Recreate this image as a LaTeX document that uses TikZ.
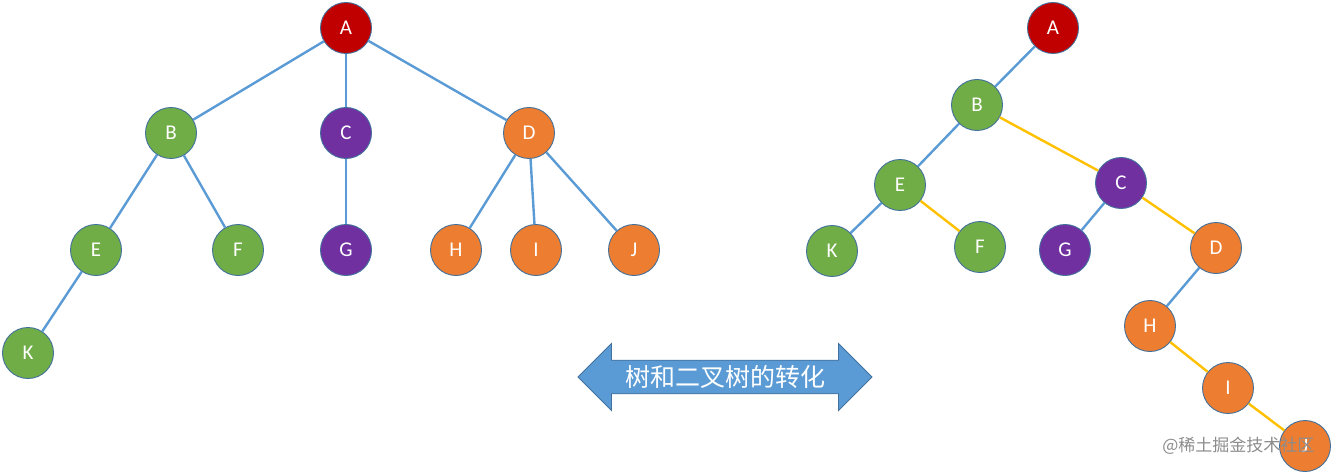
\documentclass[tikz,border=0pt]{standalone}
\usepackage{fontspec}
\setmainfont{Carlito}
\newfontfamily\cjk{Noto Sans CJK SC}
\usetikzlibrary{shapes.arrows}
\definecolor{cred}{HTML}{C00000}
\definecolor{cgreen}{HTML}{70AD47}
\definecolor{cpurple}{HTML}{7030A0}
\definecolor{corange}{HTML}{ED7D31}
\definecolor{cblue}{HTML}{5B9BD5}
\definecolor{cyellow}{HTML}{FFC000}
\definecolor{cborder}{HTML}{41719C}
\tikzset{
  tn/.style={circle, draw=cborder, line width=0.9pt, minimum size=51pt, inner sep=0pt, text=white, font=\fontsize{21}{21}\selectfont},
  rn/.style={tn, fill=cred},
  gn/.style={tn, fill=cgreen},
  pn/.style={tn, fill=cpurple},
  on/.style={tn, fill=corange},
  be/.style={draw=cblue, line width=2.4pt},
  ye/.style={draw=cyellow, line width=2.4pt},
}
\begin{document}
\begin{tikzpicture}[x=1pt,y=-1pt]
\useasboundingbox (0,0) rectangle (1332,473);
% edges left tree drawn first (behind nodes)
\begin{scope}[every node/.append style={}]
\node[rn] (A) at (346,28) {A};
\node[gn] (B) at (171,133) {B};
\node[pn] (C) at (346,133) {C};
\node[on] (D) at (529,133) {D};
\node[gn] (E) at (96,250) {E};
\node[gn] (F) at (238,250) {F};
\node[pn] (G) at (346,250) {G};
\node[on] (H) at (456,250) {H};
\node[on] (I) at (536,250) {I};
\node[on] (J) at (634,250) {J};
\node[gn] (K) at (28,353) {K};
\end{scope}
\draw[be] (A) -- (B);
\draw[be] (A) -- (C);
\draw[be] (A) -- (D);
\draw[be] (B) -- (E);
\draw[be] (B) -- (F);
\draw[be] (C) -- (G);
\draw[be] (D) -- (H);
\draw[be] (D) -- (I);
\draw[be] (D) -- (J);
\draw[be] (E) -- (K);
% right tree
\node[rn] (rA) at (1053,28) {A};
\node[gn] (rB) at (977,105) {B};
\node[gn] (rE) at (900,185) {E};
\node[pn] (rC) at (1121,183) {C};
\node[gn] (rK) at (832,251) {K};
\node[gn] (rF) at (980,247) {F};
\node[pn] (rG) at (1065,250) {G};
\node[on] (rD) at (1216,248) {D};
\node[on] (rH) at (1150,326) {H};
\node[on] (rI) at (1228,388) {I};
\node[on] (rJ) at (1305,446) {J};
\draw[be] (rA) -- (rB);
\draw[be] (rB) -- (rE);
\draw[ye] (rB) -- (rC);
\draw[be] (rE) -- (rK);
\draw[ye] (rE) -- (rF);
\draw[be] (rC) -- (rG);
\draw[ye] (rC) -- (rD);
\draw[be] (rD) -- (rH);
\draw[ye] (rH) -- (rI);
\draw[ye] (rI) -- (rJ);
% double arrow
\node[double arrow, draw=cborder, line width=0.9pt, fill=cblue,
  minimum width=67pt, minimum height=294pt, double arrow head extend=12pt,
  double arrow tip angle=90, inner sep=0pt, text=white,
  font=\cjk\fontsize{25}{25}\selectfont] (arr) at (725,377) {树和二叉树的转化};
% watermark
\node[text=gray!90, font=\cjk\fontsize{17}{17}\selectfont, anchor=east] (wm) at (1318,446) {@稀土掘金技术社区};
\end{tikzpicture}
\end{document}
